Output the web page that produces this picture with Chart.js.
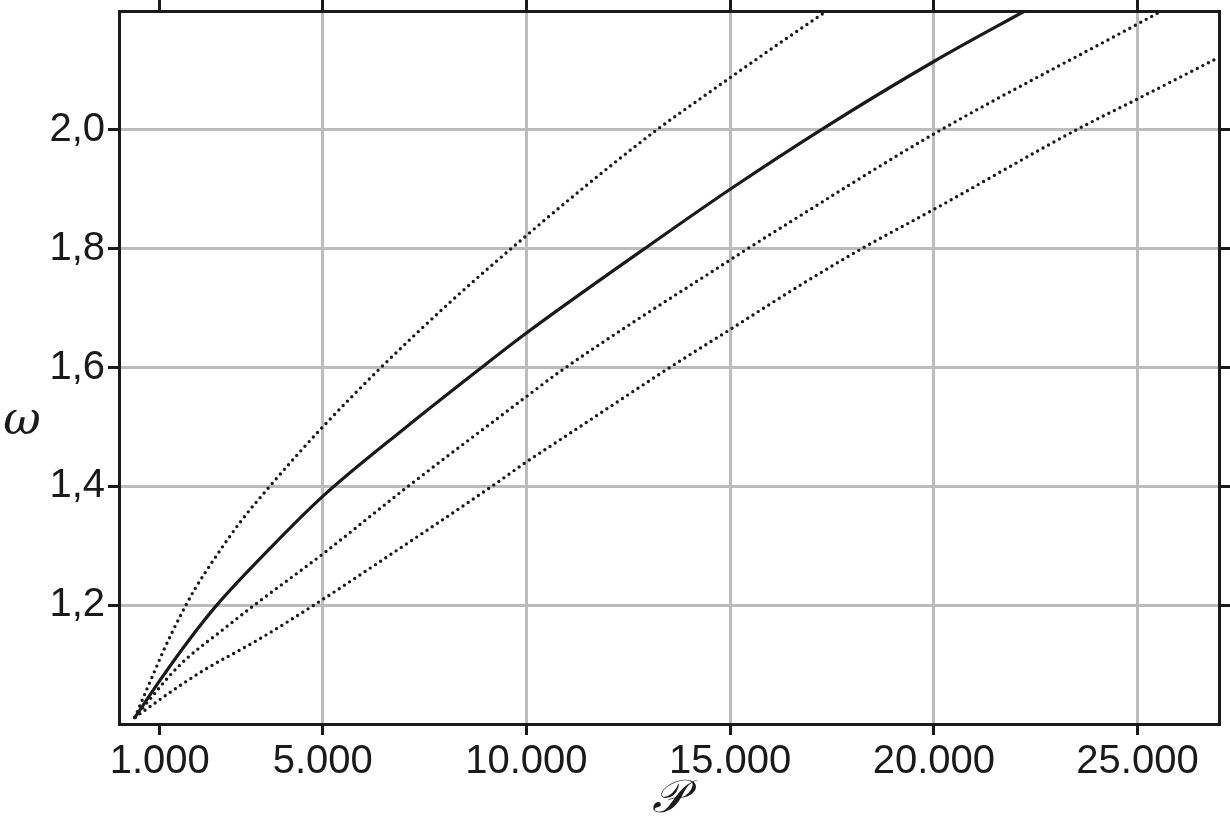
<!DOCTYPE html>
<html>
<head>
<meta charset="utf-8">
<script src="https://cdn.jsdelivr.net/npm/chart.js@4.4.1/dist/chart.umd.min.js"></script>
<style>
  html, body { margin: 0; padding: 0; background: #fff; }
  #wrap { width: 1230px; height: 830px; }
</style>
</head>
<body>
<div id="wrap"><canvas id="omegaChart" width="1230" height="830"></canvas></div>
<script>
// data (P, omega)
const solidP = [390, 1000, 1660, 2400, 3700, 5000, 7000, 8900, 10000, 12900, 15000, 17300, 20000, 22230];
const solidW = [1.011, 1.073, 1.136, 1.200, 1.295, 1.383, 1.497, 1.600, 1.658, 1.800, 1.900, 2.003, 2.115, 2.200];

const upperP = [390, 680, 850, 1090, 1330, 1620, 1870, 2360, 3000, 3700, 4440, 5000, 6400, 8160, 10000, 11500, 13200, 14260, 16260, 17370];
const upperW = [1.011, 1.058, 1.085, 1.123, 1.158, 1.197, 1.228, 1.280, 1.342, 1.400, 1.458, 1.500, 1.598, 1.712, 1.822, 1.908, 2.000, 2.052, 2.148, 2.200];

const midP = [390, 800, 1200, 1660, 2480, 3300, 4770, 5000, 7060, 10000, 10820, 15000, 16220, 20000, 25000, 25590];
const midW = [1.011, 1.045, 1.078, 1.110, 1.155, 1.199, 1.274, 1.286, 1.398, 1.551, 1.593, 1.781, 1.834, 1.993, 2.178, 2.200];

const lowP = [390, 1250, 2070, 3420, 4850, 6530, 9150, 10000, 10820, 13520, 15000, 16710, 18230, 20000, 23500, 25000, 27000];
const lowW = [1.011, 1.053, 1.090, 1.142, 1.203, 1.279, 1.400, 1.441, 1.478, 1.600, 1.664, 1.738, 1.800, 1.866, 2.000, 2.052, 2.122];

const xTicks = [1000, 5000, 10000, 15000, 20000, 25000];
const yTicks = [1.2, 1.4, 1.6, 1.8, 2.0];

const pts = (xs, ys) => xs.map((x, i) => ({ x: x, y: ys[i] }));

const ink = '#1a1a1a';
const gridGray = '#bcbcbc';
const tickFont = { family: 'Liberation Sans', size: 40 };

const dotted = {
  borderColor: ink,
  borderWidth: 3.4,
  borderDash: [0, 6.2],
  borderCapStyle: 'round',
  pointRadius: 0,
  cubicInterpolationMode: 'monotone',
  fill: false
};

// axis titles drawn upright, like the picture
const axisTitles = {
  id: 'axisTitles',
  afterDraw(chart) {
    const ctx = chart.ctx;
    ctx.save();
    ctx.fillStyle = ink;
    ctx.textAlign = 'center';
    ctx.textBaseline = 'middle';
    ctx.font = 'italic 46px "DejaVu Serif"';
    ctx.fillText('ω', 22, 422);
    ctx.fillText('𝒫', 668, 800);
    ctx.restore();
  }
};

const config = {
  type: 'line',
  data: {
    datasets: [
      Object.assign({ label: 'upper', data: pts(upperP, upperW) }, dotted),
      {
        label: 'solid',
        data: pts(solidP, solidW),
        borderColor: ink,
        borderWidth: 3.2,
        pointRadius: 0,
        cubicInterpolationMode: 'monotone',
        fill: false
      },
      Object.assign({ label: 'middle', data: pts(midP, midW) }, dotted),
      Object.assign({ label: 'lower', data: pts(lowP, lowW) }, dotted)
    ]
  },
  options: {
    responsive: false,
    animation: false,
    layout: { padding: 0 },
    plugins: { legend: { display: false }, tooltip: { enabled: false } },
    scales: {
      x: {
        type: 'linear',
        position: 'bottom',
        min: 0,
        max: 27000,
        afterBuildTicks: s => { s.ticks = xTicks.map(v => ({ value: v })); },
        afterFit: s => { s.height = 106; },
        ticks: {
          color: ink,
          font: tickFont,
          padding: 3,
          maxRotation: 0,
          callback: v => v.toLocaleString('de-DE')
        },
        grid: {
          color: c => (c.tick && c.tick.value === 1000) ? 'rgba(0,0,0,0)' : gridGray,
          tickColor: ink,
          lineWidth: 3,
          tickWidth: 3,
          tickLength: 11
        },
        border: { color: ink, width: 3 }
      },
      x2: {
        type: 'linear',
        position: 'top',
        min: 0,
        max: 27000,
        afterBuildTicks: s => { s.ticks = xTicks.map(v => ({ value: v })); },
        afterFit: s => { s.height = 11; },
        ticks: { display: false },
        grid: { drawOnChartArea: false, tickColor: ink, tickWidth: 3, tickLength: 11 },
        border: { color: ink, width: 3 }
      },
      y: {
        type: 'linear',
        position: 'left',
        min: 1.0,
        max: 2.2,
        afterBuildTicks: s => { s.ticks = yTicks.map(v => ({ value: v })); },
        afterFit: s => { s.width = 119; s.paddingTop = 0; s.paddingBottom = 0; },
        ticks: {
          color: ink,
          font: tickFont,
          padding: 3,
          callback: v => v.toFixed(1).replace('.', ',')
        },
        grid: { color: gridGray, tickColor: ink, lineWidth: 3, tickWidth: 3, tickLength: 11 },
        border: { color: ink, width: 3 }
      },
      y2: {
        type: 'linear',
        position: 'right',
        min: 1.0,
        max: 2.2,
        afterBuildTicks: s => { s.ticks = yTicks.map(v => ({ value: v })); },
        afterFit: s => { s.width = 11; s.paddingTop = 0; s.paddingBottom = 0; },
        ticks: { display: false },
        grid: { drawOnChartArea: false, tickColor: ink, tickWidth: 3, tickLength: 11 },
        border: { color: ink, width: 3 }
      }
    }
  },
  plugins: [axisTitles]
};

const omegaChart = new Chart(document.getElementById('omegaChart'), config);
</script>
</body>
</html>
